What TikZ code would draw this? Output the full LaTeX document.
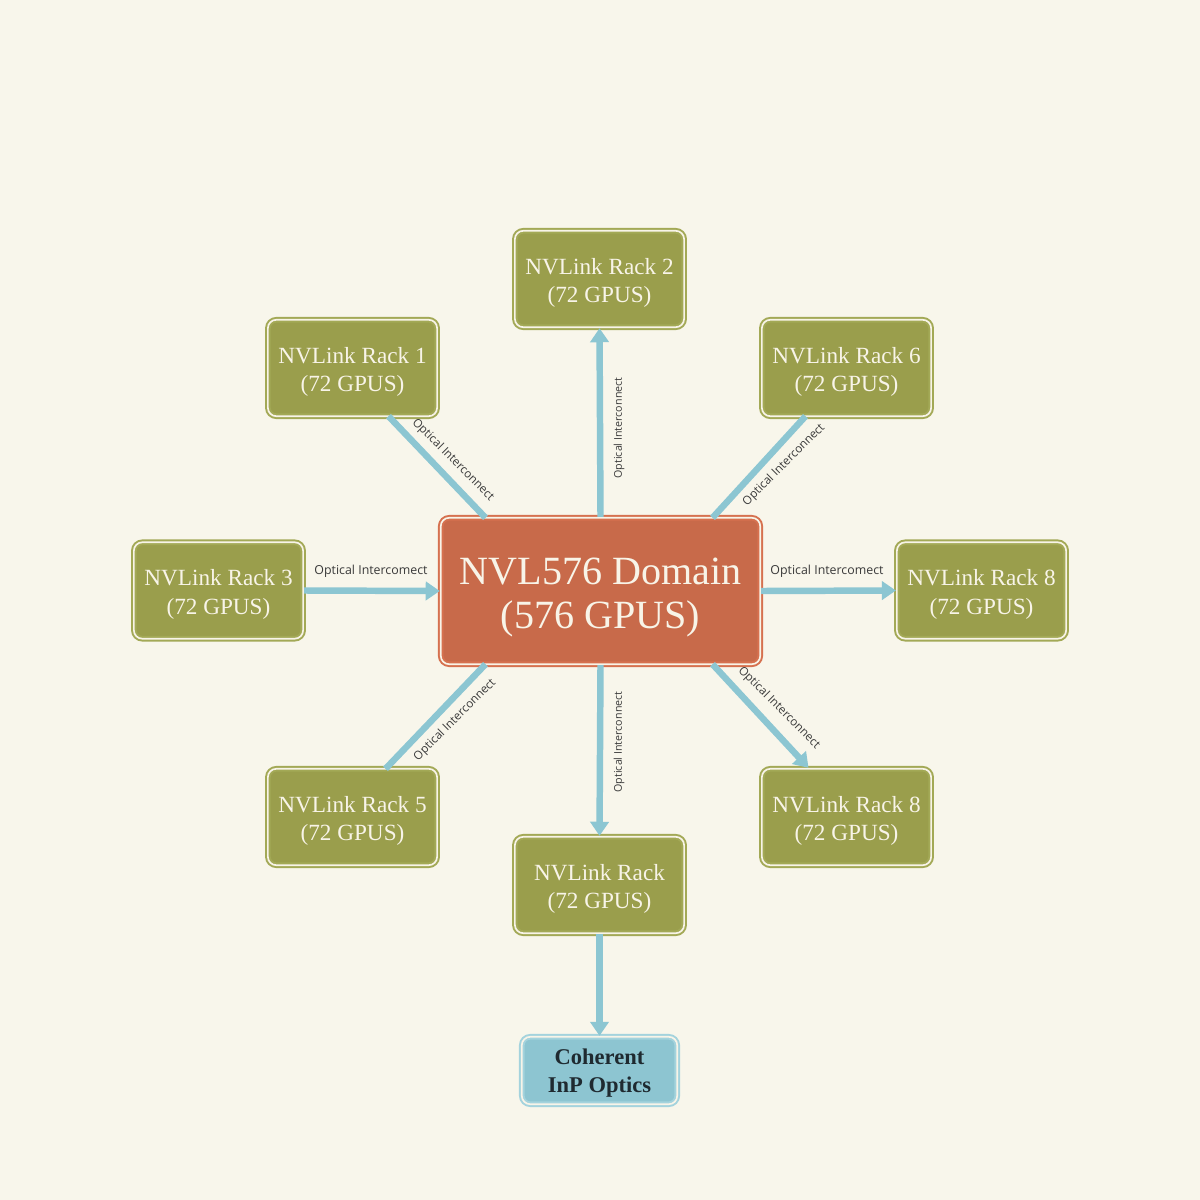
\documentclass[tikz,border=0pt]{standalone}
\usepackage{fontspec}
\newfontfamily\labelfont{Open Sans}
\newfontfamily\boxfont{Liberation Serif}
\usetikzlibrary{arrows.meta,calc}
\definecolor{bg}{HTML}{F8F6EB}
\definecolor{olive}{HTML}{9A9E4C}
\definecolor{oliveline}{HTML}{A3A956}
\definecolor{rust}{HTML}{C86A4A}
\definecolor{rustline}{HTML}{D6714F}
\definecolor{sky}{HTML}{8DC5D1}
\definecolor{skyline}{HTML}{A4D3DD}
\definecolor{link}{HTML}{8CC6D2}
\definecolor{boxtext}{HTML}{F8F4E8}
\definecolor{lbl}{HTML}{3A3A3A}
\definecolor{darktext}{HTML}{1F2A30}
\newcommand{\lowerby}[1]{\rule{0pt}{#1}}
\begin{document}
\begin{tikzpicture}[x=0.025cm,y=-0.025cm,
  framed/.style={rectangle, rounded corners=6pt, line width=1.4pt, double=boxtext,
    double distance=1.2pt, inner sep=0pt, align=center},
  rackbox/.style={framed, fill=olive, draw=oliveline, minimum width=4.23cm,
    minimum height=2.41cm, text=boxtext, font=\boxfont\fontsize{16.5}{20}\selectfont},
  domainbox/.style={framed, fill=rust, draw=rustline, minimum width=7.985cm,
    minimum height=3.66cm, text=boxtext, font=\boxfont\fontsize{28.5}{31.3}\selectfont},
  opticsbox/.style={framed, fill=sky, draw=skyline, minimum width=3.885cm,
    minimum height=1.685cm, text=darktext, font=\boxfont\bfseries\fontsize{16}{20}\selectfont},
  link/.style={draw=link, line width=4.6pt},
  linkarrow/.style={link, -{Triangle[width=13pt,length=10pt]}},
  lbl/.style={font=\labelfont\fontsize{8.8}{10}\selectfont, text=lbl, inner sep=0pt},
  dlbl/.style={lbl, font=\labelfont\fontsize{8.3}{10}\selectfont},
  vlbl/.style={lbl, font=\labelfont\fontsize{7.6}{9}\selectfont, rotate=90}
]
\useasboundingbox[fill=bg] (0,0) rectangle (1200,1200);

\node[domainbox] (ctr) at (600.5,591) {\lowerby{28pt}NVL576 Domain\\(576 GPUS)};
\node[rackbox] (r2) at (599.5,279) {\lowerby{17pt}NVLink Rack 2\\(72 GPUS)};
\node[rackbox] (r1) at (352.5,368) {\lowerby{17pt}NVLink Rack 1\\(72 GPUS)};
\node[rackbox] (r6) at (846.5,368) {\lowerby{17pt}NVLink Rack 6\\(72 GPUS)};
\node[rackbox] (r3) at (218.5,590.5) {\lowerby{17pt}NVLink Rack 3\\(72 GPUS)};
\node[rackbox] (r8a) at (981.5,590.5) {\lowerby{17pt}NVLink Rack 8\\(72 GPUS)};
\node[rackbox] (r5) at (352.5,817) {\lowerby{17pt}NVLink Rack 5\\(72 GPUS)};
\node[rackbox] (r8b) at (846.5,817) {\lowerby{17pt}NVLink Rack 8\\(72 GPUS)};
\node[rackbox] (rb) at (599.5,885) {\lowerby{17pt}NVLink Rack\\(72 GPUS)};
\node[opticsbox] (opt) at (599.5,1070.5) {\lowerby{15pt}Coherent\\InP Optics};

% connectors
\draw[linkarrow] (ctr.north) -- (r2.south);
\draw[link] ($(r1.south)+(36,-1)$) -- ($(ctr.north)+(-115,1)$);
\draw[link] ($(r6.south)+(-41,-1)$) -- ($(ctr.north)+(112,1)$);
\draw[linkarrow] (r3.east) -- (ctr.west);
\draw[linkarrow] (ctr.east) -- (r8a.west);
\draw[link] ($(r5.north)+(33,1)$) -- ($(ctr.south)+(-115,-1)$);
\draw[linkarrow] ($(ctr.south)+(112,-1)$) -- ($(r8b.north)+(-38,0)$);
\draw[linkarrow] (ctr.south) -- (rb.north);
\draw[linkarrow] (rb.south) -- (opt.north);

% labels
\node[lbl] (l3) at (371,571) {Optical Intercomect};
\node[lbl] (l8) at (827,571) {Optical Intercomect};
\node[vlbl] (lu) at (619,428) {Optical Interconnect};
\node[vlbl] (ld) at (619,742) {Optical Interconnect};
\node[dlbl, rotate=-45] (lul) at (453,460) {Optical Interconnect};
\node[dlbl, rotate=45] (lur) at (784,465) {Optical Interconnect};
\node[dlbl, rotate=45] (lll) at (455,720) {Optical Interconnect};
\node[dlbl, rotate=-45] (llr) at (779,708) {Optical Interconnect};
\end{tikzpicture}
\end{document}
